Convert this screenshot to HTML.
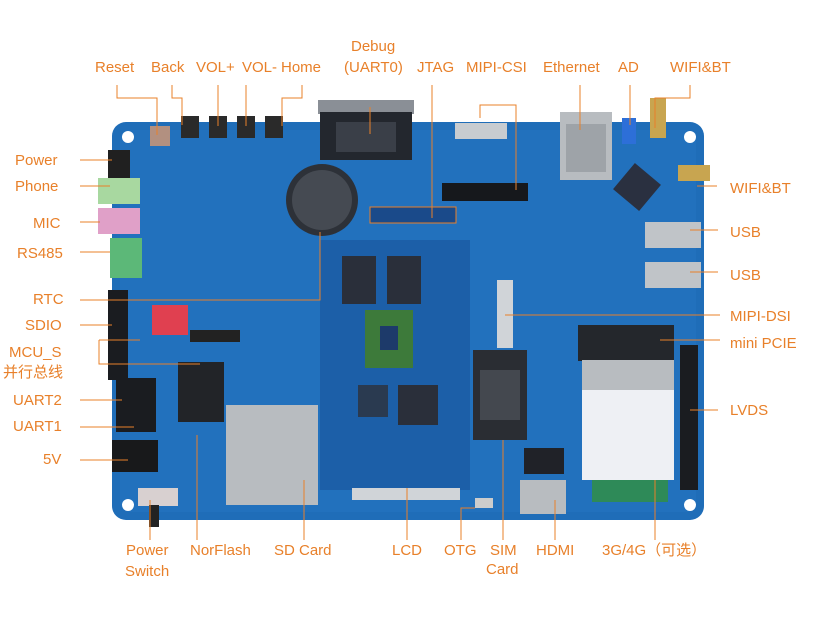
<!DOCTYPE html>
<html><head><meta charset="utf-8"><style>
html,body{margin:0;padding:0;background:#fff}
svg{display:block}
text{font-family:"Liberation Sans","Noto Sans CJK SC",sans-serif;font-size:15px;fill:#e8802a}
</style></head><body>
<svg width="814" height="625" viewBox="0 0 814 625" xmlns="http://www.w3.org/2000/svg">
<!-- board -->
<rect x="112" y="122" width="592" height="398" rx="14" fill="#1f6db8"/>
<rect x="120" y="130" width="576" height="382" rx="10" fill="#2474c0" opacity="0.6"/>
<g fill="#fff"><circle cx="128" cy="137" r="6"/><circle cx="690" cy="137" r="6"/><circle cx="128" cy="505" r="6"/><circle cx="690" cy="505" r="6"/></g>
<!-- core module -->
<rect x="320" y="240" width="150" height="250" fill="#1c5fa8"/>
<rect x="342" y="256" width="34" height="48" fill="#2a2f3a"/><rect x="387" y="256" width="34" height="48" fill="#2a2f3a"/>
<rect x="365" y="310" width="48" height="58" fill="#3d7a3a"/><rect x="380" y="326" width="18" height="24" fill="#1d3a6a"/>
<rect x="398" y="385" width="40" height="40" fill="#2a2f3a"/><rect x="358" y="385" width="30" height="32" fill="#2a3a50"/>
<!-- DB9 -->
<rect x="318" y="100" width="96" height="14" fill="#8a8f96"/>
<rect x="320" y="112" width="92" height="48" fill="#23272e"/><rect x="336" y="122" width="60" height="30" fill="#3a3f48"/>
<!-- ethernet -->
<rect x="560" y="112" width="52" height="68" fill="#b8bcc0"/><rect x="566" y="124" width="40" height="48" fill="#9ea3a8"/>
<rect x="622" y="118" width="14" height="26" fill="#2d6fd8"/>
<!-- antennas -->
<rect x="650" y="98" width="16" height="40" fill="#c8a550"/><rect x="678" y="165" width="32" height="16" fill="#c8a550"/>
<rect x="620" y="170" width="34" height="34" fill="#2a3040" transform="rotate(40 637 187)"/>
<!-- JTAG / MIPI -->
<rect x="455" y="123" width="52" height="16" fill="#c8ccd0"/>
<rect x="442" y="183" width="86" height="18" fill="#16181c"/>
<rect x="370" y="207" width="86" height="16" fill="#1a4a8a" stroke="#e8802a" stroke-width="1"/>
<!-- battery -->
<circle cx="322" cy="200" r="36" fill="#2d3138"/><circle cx="322" cy="200" r="30" fill="#454a52"/>
<!-- tact switches -->
<g fill="#2a2a2a"><rect x="150" y="126" width="20" height="20" fill="#b29080"/><rect x="181" y="116" width="18" height="22"/><rect x="209" y="116" width="18" height="22"/><rect x="237" y="116" width="18" height="22"/><rect x="265" y="116" width="18" height="22"/></g>
<!-- audio -->
<rect x="108" y="150" width="22" height="28" fill="#202020"/>
<rect x="98" y="178" width="42" height="26" fill="#a8d8a0"/>
<rect x="98" y="208" width="42" height="26" fill="#e0a0c8"/>
<rect x="110" y="238" width="32" height="40" fill="#5cb878"/>
<!-- left headers -->
<rect x="108" y="290" width="20" height="90" fill="#1a1c20"/>
<rect x="116" y="378" width="40" height="54" fill="#1a1c20"/>
<rect x="112" y="440" width="46" height="32" fill="#18191b"/>
<rect x="152" y="305" width="36" height="30" fill="#e04050"/>
<rect x="178" y="362" width="46" height="60" fill="#222428"/>
<rect x="190" y="330" width="50" height="12" fill="#222"/><rect x="225" y="412" width="0" height="0"/>
<rect x="225" y="415" width="0" height="0"/>
<rect x="225" y="415" width="0" height="0"/>
<rect x="225" y="415" width="0" height="0"/>
<rect x="225" y="415" width="0" height="0"/>
<rect x="225" y="414" width="0" height="0"/>
<rect x="225" y="415" width="0" height="0"/>
<rect x="225" y="415" width="0" height="0"/>
<rect x="226" y="415" width="0" height="0"/>
<rect x="226" y="413" width="0" height="0"/>
<rect x="226" y="410" width="0" height="0"/>
<rect x="226" y="410" width="0" height="0"/>
<rect x="226" y="405" width="92" height="100" fill="#b8bcc0"/>
<rect x="138" y="488" width="40" height="18" fill="#d8d0d0"/><rect x="149" y="505" width="10" height="22" fill="#222"/>
<!-- bottom connectors -->
<rect x="352" y="488" width="108" height="12" fill="#d0d4d8"/>
<rect x="475" y="498" width="18" height="10" fill="#ccc"/>
<rect x="520" y="480" width="46" height="34" fill="#b8bcc0"/>
<rect x="524" y="448" width="40" height="26" fill="#202228"/>
<!-- SIM -->
<rect x="473" y="350" width="54" height="90" fill="#2a2d33"/><rect x="480" y="370" width="40" height="50" fill="#44484f"/>
<!-- MIPI-DSI -->
<rect x="498" y="318" width="16" height="0"/><rect x="497" y="280" width="16" height="68" fill="#d0d4d8"/>
<!-- USB -->
<rect x="645" y="222" width="56" height="26" fill="#c0c4c8"/><rect x="645" y="262" width="56" height="26" fill="#c0c4c8"/>
<!-- mini PCIe module -->
<rect x="578" y="325" width="96" height="36" fill="#24272c"/>
<rect x="582" y="360" width="92" height="30" fill="#b8bcc0"/>
<rect x="582" y="390" width="92" height="90" fill="#eef0f4"/>
<rect x="592" y="480" width="76" height="22" fill="#2e8a58"/>
<rect x="680" y="345" width="18" height="145" fill="#1a1c20"/>
<!-- leader lines -->
<g stroke="#e8802a" stroke-width="1" fill="none">
<path d="M117 85V98H157V135"/><path d="M172 85V98H182V125"/><path d="M218 85V126"/><path d="M246 85V126"/><path d="M302 85V98H282V126"/>
<path d="M370 107V134"/><path d="M432 85V218"/><path d="M480 118V105H516V190"/><path d="M580 85V130"/><path d="M630 85V125"/>
<path d="M690 85V98H655V128"/><path d="M697 186H717"/><path d="M690 230H718"/><path d="M690 272H718"/>
<path d="M505 315H720"/><path d="M660 340H720"/><path d="M690 410H718"/>
<path d="M80 160H112"/><path d="M80 186H110"/><path d="M80 222H100"/><path d="M80 252H110"/>
<path d="M80 300H320V232"/><path d="M80 325H112"/><path d="M99 340V364H200"/><path d="M99 340H140"/><path d="M99 364H140"/>
<path d="M80 400H122"/><path d="M80 427H134"/><path d="M80 460H128"/>
<path d="M150 500V540"/><path d="M197 435V540"/><path d="M304 480V540"/><path d="M407 488V540"/><path d="M461 540V508H475"/><path d="M503 440V540"/><path d="M555 500V540"/><path d="M655 480V540"/>
</g>
<!-- labels -->
<text x="95" y="72">Reset</text><text x="151" y="72">Back</text><text x="196" y="72">VOL+</text><text x="242" y="72">VOL-</text><text x="281" y="72">Home</text>
<text x="351" y="51">Debug</text><text x="344" y="72">(UART0)</text>
<text x="417" y="72">JTAG</text><text x="466" y="72">MIPI-CSI</text><text x="543" y="72">Ethernet</text><text x="618" y="72">AD</text><text x="670" y="72">WIFI&amp;BT</text>
<text x="730" y="193">WIFI&amp;BT</text><text x="730" y="237">USB</text><text x="730" y="280">USB</text><text x="730" y="321">MIPI-DSI</text><text x="730" y="348">mini PCIE</text><text x="730" y="415">LVDS</text>
<text x="15" y="165">Power</text><text x="15" y="191">Phone</text><text x="33" y="228">MIC</text><text x="17" y="258">RS485</text>
<text x="33" y="304">RTC</text><text x="25" y="330">SDIO</text><text x="9" y="357">MCU_S</text><text x="3" y="377">并行总线</text>
<text x="13" y="405">UART2</text><text x="13" y="431">UART1</text><text x="43" y="464">5V</text>
<text x="126" y="555">Power</text><text x="125" y="576">Switch</text><text x="190" y="555">NorFlash</text><text x="274" y="555">SD Card</text>
<text x="392" y="555">LCD</text><text x="444" y="555">OTG</text><text x="490" y="555">SIM</text><text x="486" y="574">Card</text><text x="536" y="555">HDMI</text><text x="602" y="555">3G/4G（可选）</text>
</g>
</svg>
</body></html>
